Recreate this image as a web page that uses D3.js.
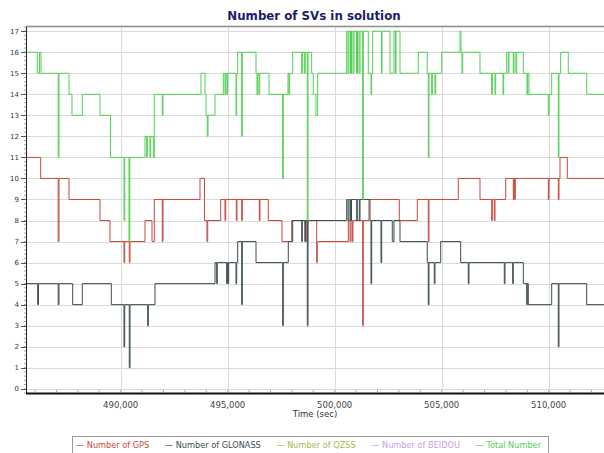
<!DOCTYPE html>
<html>
<head>
<meta charset="utf-8">
<script src="https://cdn.jsdelivr.net/npm/d3@7/dist/d3.min.js"></script>
<style>
  body { margin: 0; background: #fff; }
  svg { display: block; }
</style>
</head>
<body>
<svg id="chart" width="604" height="453"></svg>
<script>
// step change points: [time (sec), number of SVs]
const totalSteps = [
  [485575,16],[486103,15],[486205,16],[486276,15],[487079,11],[487117,15],[487584,14],[487724,13],
  [488206,14],[489033,13],[489523,11],[490154,8],[490192,11],[490388,7],[490425,11],[491136,12],
  [491215,11],[491243,12],[491369,11],[491402,12],[491523,11],[491570,14],[491944,13],[491977,14],
  [493752,15],[493939,14],[493986,13],[494047,12],[494080,13],[494407,14],[494795,15],[494874,14],
  [494907,15],[494967,14],[495000,15],[495388,13],[495421,15],[495467,16],[495654,12],[495682,16],
  [496323,15],[496369,14],[496402,15],[496463,14],[496496,15],[496930,14],[497570,10],[497598,14],
  [497818,15],[497865,14],[497897,15],[498038,16],[498458,15],[498486,16],[498580,15],[498626,16],
  [498720,8],[498753,16],[498925,15],[499000,14],[499126,13],[499206,15],[500561,17],[500622,15],
  [500669,17],[500739,15],[500785,17],[500855,15],[500902,17],[501019,15],[501066,17],[501136,15],
  [501183,17],[501309,9],[501337,17],[501570,15],[501697,14],[501729,15],[501776,17],[502187,15],
  [502211,17],[502584,15],[502771,17],[502841,15],[502865,17],[503052,15],[503907,16],[504327,15],
  [504374,11],[504407,15],[504533,14],[504561,15],[504687,14],[504720,15],[505000,16],[505856,17],
  [505902,16],[505949,15],[505982,16],[506790,15],[507337,14],[507365,15],[507491,14],[507524,15],
  [507865,14],[507898,15],[508038,16],[508113,15],[508145,16],[508346,15],[508379,16],[508472,15],
  [508505,16],[508814,15],[508986,14],[509019,15],[509080,14],[509982,13],[510015,14],[510141,15],
  [510449,11],[510482,15],[510561,16],[510916,15],[511776,14],[512585,14]
];
const gpsSteps = [
  [485575,11],[486262,10],[487079,7],[487117,10],[487584,9],[489033,8],[489500,7],[490154,6],
  [490187,7],[490402,6],[490435,7],[491136,8],[491463,7],[491570,9],[491944,7],[491977,9],
  [493706,10],[493916,8],[494033,7],[494066,8],[494673,9],[494874,8],[494907,9],[495402,8],
  [495435,9],[495654,8],[495682,9],[496477,8],[496510,9],[496897,8],[497538,7],[497991,8],
  [498612,7],[498645,8],[498706,7],[498739,8],[499159,6],[499187,7],[500636,8],[500715,7],
  [500762,8],[500823,7],[500855,8],[501309,3],[501337,8],[501603,9],[503019,8],[503860,9],
  [504374,7],[504407,9],[505776,10],[506790,9],[507337,8],[507365,9],[507458,8],[507491,9],
  [507991,10],[508346,9],[508379,10],[508412,9],[508440,10],[509982,9],[510015,10],[510449,9],
  [510482,10],[510529,11],[510870,10],[512585,10]
];
const glonassSteps = [
  [485575,5],[486121,4],[486159,5],[487079,4],[487117,5],[487757,4],[488206,5],[489561,4],
  [490154,2],[490187,4],[490402,1],[490435,4],[491262,3],[491290,4],[491603,5],[494407,6],
  [494486,5],[494514,6],[494953,5],[494981,6],[495014,5],[495047,6],[495388,5],[495421,6],
  [495467,7],[495654,4],[495682,7],[496323,6],[497570,3],[497598,6],[497832,7],[498038,8],
  [498458,7],[498486,8],[498612,7],[498645,8],[498720,3],[498753,8],[500561,9],[500622,8],
  [500669,9],[500739,8],[500785,9],[501028,8],[501056,9],[501150,8],[501183,9],[501650,8],
  [501697,5],[501729,8],[502164,6],[502197,8],[502692,7],[502771,8],[503052,7],[504327,6],
  [504374,4],[504407,6],[504654,5],[504687,6],[504954,7],[505888,6],[506243,5],[506276,6],
  [507926,5],[507958,6],[508318,5],[508346,6],[508814,5],[508972,4],[509000,5],[509047,4],
  [510141,5],[510449,2],[510482,5],[511776,4],[512585,4]
];
const qzssSteps = [];
const beidouSteps = [];

const seriesNames = ['Number of GPS', 'Number of GLONASS', 'Number of QZSS', 'Number of BEIDOU', 'Total Number'];
const xTicks = [490000, 495000, 500000, 505000, 510000];
const yTicks = d3.range(0, 18);

(function () {
  const svg = d3.select('#chart');
  const L = 26, R = 604, T = 27, B = 393;
  const font = 'DejaVu Sans, Verdana, sans-serif';

  const x = d3.scaleLinear().domain([485575, 512585]).range([L, R]);
  const y = d3.scaleLinear().domain([-0.2, 17.2]).range([B, T]);

  const colors = ['#c4483f', '#3b4d50', '#a8b84a', '#c8a0e0', '#52cf52'];
  const series = [gpsSteps, glonassSteps, qzssSteps, beidouSteps, totalSteps];

  // title
  svg.append('text')
    .attr('x', 314).attr('y', 20)
    .attr('text-anchor', 'middle')
    .attr('font-family', font).attr('font-size', 11.8).attr('font-weight', 'bold')
    .attr('fill', '#1c1c6e')
    .text('Number of SVs in solution');

  // grid
  const grid = svg.append('g');
  yTicks.forEach(v => {
    grid.append('line')
      .attr('x1', L).attr('x2', R).attr('y1', Math.round(y(v)) + 0.5).attr('y2', Math.round(y(v)) + 0.5)
      .attr('stroke', '#dadada').attr('stroke-width', 1);
  });
  xTicks.forEach(t => {
    grid.append('line')
      .attr('x1', Math.round(x(t)) + 0.5).attr('x2', Math.round(x(t)) + 0.5).attr('y1', T).attr('y2', B)
      .attr('stroke', '#dadada').attr('stroke-width', 1);
  });

  // series
  svg.append('clipPath').attr('id', 'plot-clip')
    .append('rect').attr('x', L).attr('y', T).attr('width', R - L).attr('height', B - T);

  const line = d3.line()
    .x(d => x(d[0])).y(d => y(d[1]))
    .curve(d3.curveStepAfter);

  const lines = svg.append('g').attr('clip-path', 'url(#plot-clip)');
  series.forEach((s, i) => {
    if (!s.length) return;
    lines.append('path')
      .attr('d', line(s))
      .attr('fill', 'none')
      .attr('stroke', colors[i])
      .attr('stroke-width', 1);
  });

  // frame: top border, left axis, bottom axis
  svg.append('line').attr('x1', L).attr('x2', R).attr('y1', 26.5).attr('y2', 26.5)
    .attr('stroke', '#8a8a8a').attr('stroke-width', 1.5);
  svg.append('line').attr('x1', L + 0.5).attr('x2', L + 0.5).attr('y1', T).attr('y2', B)
    .attr('stroke', '#222').attr('stroke-width', 1);
  svg.append('line').attr('x1', L).attr('x2', R).attr('y1', B + 0.5).attr('y2', B + 0.5)
    .attr('stroke', '#111').attr('stroke-width', 2);

  // y axis ticks + labels
  const yAx = svg.append('g');
  d3.range(-0.2, 17.21, 0.2).forEach(v => {
    yAx.append('line')
      .attr('x1', L - 2).attr('x2', L).attr('y1', y(v)).attr('y2', y(v))
      .attr('stroke', '#666').attr('stroke-width', 0.6);
  });
  yTicks.forEach(v => {
    yAx.append('line')
      .attr('x1', L - 5).attr('x2', L).attr('y1', Math.round(y(v)) + 0.5).attr('y2', Math.round(y(v)) + 0.5)
      .attr('stroke', '#555').attr('stroke-width', 1);
    yAx.append('text')
      .attr('x', 19).attr('y', y(v) + 2.5)
      .attr('text-anchor', 'end')
      .attr('font-family', font).attr('font-size', 7)
      .attr('fill', '#333')
      .text(v);
  });

  // x axis ticks + labels
  const xAx = svg.append('g');
  d3.range(486000, 512585, 1000).forEach(t => {
    xAx.append('line')
      .attr('x1', x(t)).attr('x2', x(t)).attr('y1', B - 3).attr('y2', B)
      .attr('stroke', '#999').attr('stroke-width', 0.8);
  });
  const fmt = d3.format(',');
  xTicks.forEach(t => {
    xAx.append('text')
      .attr('x', x(t)).attr('y', 407.5)
      .attr('text-anchor', 'middle')
      .attr('font-family', font).attr('font-size', 8.5)
      .attr('fill', '#444')
      .text(fmt(t));
  });
  svg.append('text')
    .attr('x', 315).attr('y', 416.5)
    .attr('text-anchor', 'middle')
    .attr('font-family', font).attr('font-size', 8.5)
    .attr('fill', '#333')
    .text('Time (sec)');

  // legend: items spread evenly inside the box
  const leg = svg.append('g');
  leg.append('rect')
    .attr('x', 72.5).attr('y', 436.5).attr('width', 476).attr('height', 24)
    .attr('fill', '#fff').attr('stroke', '#9a9a9a').attr('stroke-width', 1);
  const items = seriesNames.map((n, i) => leg.append('text')
    .attr('y', 448)
    .attr('font-family', font).attr('font-size', 8.2)
    .attr('fill', colors[i])
    .text('— ' + n));
  const widths = items.map(t => t.node().getComputedTextLength());
  const x0 = 76, x1 = 541;
  const gap = (x1 - x0 - d3.sum(widths)) / (items.length - 1);
  let cx = x0;
  items.forEach((t, i) => { t.attr('x', cx); cx += widths[i] + gap; });
})();
</script>
</body>
</html>
